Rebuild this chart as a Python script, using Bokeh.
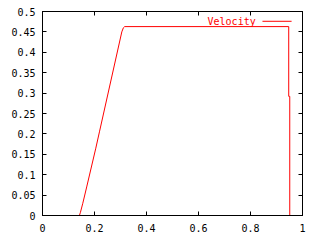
from bokeh.plotting import figure
from bokeh.models import Range1d, LinearAxis, FixedTicker, Label, Arrow, CustomJSTickFormatter
from bokeh.embed import file_html
from bokeh.resources import INLINE

# Data
time_x = [0.0, 0.142, 0.146, 0.155, 0.170, 0.205, 0.219, 0.305, 0.311, 0.316,
          0.947, 0.947, 0.951, 0.951, 1.0]
velocity = [0.0, 0.0, 0.008, 0.03, 0.07, 0.165, 0.205, 0.45, 0.46, 0.463,
            0.463, 0.292, 0.292, 0.0, 0.0]
x_ticks = [0, 0.2, 0.4, 0.6, 0.8, 1]
y_ticks = [0, 0.05, 0.1, 0.15, 0.2, 0.25, 0.3, 0.35, 0.4, 0.45, 0.5]
series_name = "Velocity"

FONT = "DejaVu Sans Mono"
FS = "10px"

p = figure(width=320, height=240, output_backend="svg", toolbar_location=None,
           x_range=Range1d(0, 1), y_range=Range1d(0, 0.5),
           x_axis_location=None, y_axis_location=None,
           min_border_left=42, min_border_right=18, min_border_top=11, min_border_bottom=25)
p.background_fill_color = "white"
p.border_fill_color = "white"
p.outline_line_color = "black"
p.outline_line_width = 1
p.grid.visible = False

def make_axis(ticks, show_labels):
    ax = LinearAxis(ticker=FixedTicker(ticks=ticks))
    ax.axis_line_color = "black"
    ax.major_tick_in = 4
    ax.major_tick_out = 0
    ax.minor_tick_line_color = None
    ax.major_tick_line_color = "black"
    ax.major_label_text_font = FONT
    ax.major_label_text_font_size = FS
    ax.major_label_text_color = "black"
    if not show_labels:
        ax.formatter = CustomJSTickFormatter(code="return '';")
        ax.major_label_standoff = 0
    return ax

xb = make_axis(x_ticks, True)
xb.major_label_standoff = 8
yl = make_axis(y_ticks, True)
yl.major_label_standoff = 7
xt = make_axis(x_ticks, False)
yr = make_axis(y_ticks, False)
p.add_layout(xb, "below")
p.add_layout(yl, "left")
p.add_layout(xt, "above")
p.add_layout(yr, "right")

p.line(time_x, velocity, line_color="red", line_width=1)

# gnuplot-style key: text then sample line
p.add_layout(Label(x=0.82, y=0.476, text=series_name, text_color="red",
                   text_font=FONT, text_font_size=FS,
                   text_align="right", text_baseline="middle"))
p.add_layout(Arrow(start=None, end=None, x_start=0.846, y_start=0.476,
                   x_end=0.958, y_end=0.476, line_color="red", line_width=1))

open("out.html", "w").write(file_html(p, INLINE))
